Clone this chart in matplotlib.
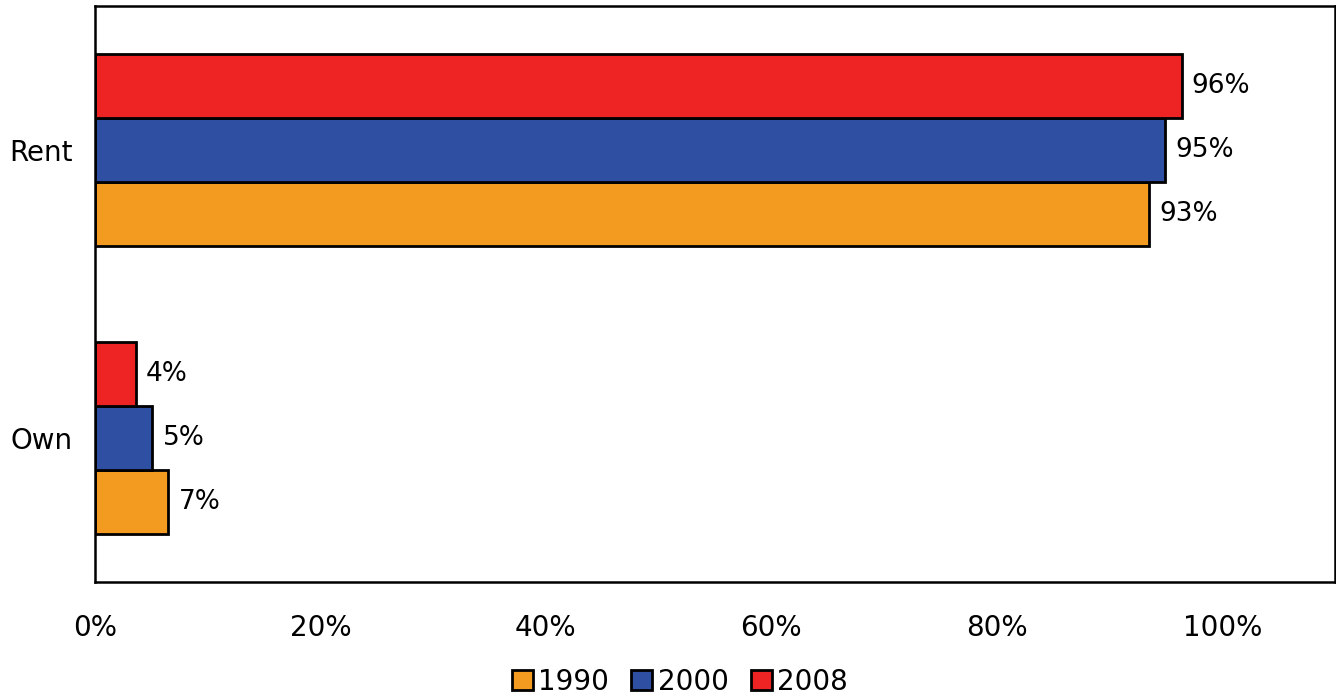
import numpy as np
import matplotlib.pyplot as plt
from matplotlib.patches import Patch

categories = ['Own', 'Rent']
years = ['1990', '2000', '2008']
values = {
    '1990': [0.065, 0.935],
    '2000': [0.051, 0.949],
    '2008': [0.036, 0.964],
}
labels = {
    '1990': ['7%', '93%'],
    '2000': ['5%', '95%'],
    '2008': ['4%', '96%'],
}
colors = {'1990': '#F39A21', '2000': '#2F4FA2', '2008': '#EE2424'}
xticks = [0, 0.2, 0.4, 0.6, 0.8, 1.0]
xticklabels = ['0%', '20%', '40%', '60%', '80%', '100%']

fig = plt.figure(figsize=(13.36, 6.98), dpi=100)
ax = fig.add_axes([95 / 1336, 1 - 582 / 698, (1335 - 95) / 1336, (582 - 6) / 698])

h = 0.222
y = np.arange(len(categories))
offsets = {'1990': -h, '2000': 0.0, '2008': h}
for yr in years:
    bars = ax.barh(y + offsets[yr], values[yr], height=h, color=colors[yr],
                   edgecolor='black', linewidth=2)
    for b, lab in zip(bars, labels[yr]):
        ax.text(b.get_width() + 0.009, b.get_y() + h / 2, lab,
                va='center', ha='left', fontsize=19)

ax.set_xlim(0, 1.1)
ax.set_ylim(-0.5, 1.5)
ax.set_yticks(y)
ax.set_yticklabels(categories, fontsize=20)
ax.set_xticks(xticks)
ax.set_xticklabels(xticklabels, fontsize=20)
ax.tick_params(axis='x', length=0, pad=23)
ax.tick_params(axis='y', length=0, pad=16)
for s in ax.spines.values():
    s.set_linewidth(1.8)

handles = [Patch(facecolor=colors[yr], edgecolor='black', linewidth=2, label=yr) for yr in years]
fig.legend(handles=handles, loc='center', bbox_to_anchor=(680 / 1336, 1 - 682 / 698),
           ncol=3, frameon=False, fontsize=20, handlelength=0.75, handleheight=0.75,
           handletextpad=0.2, columnspacing=0.8)

fig.savefig('out.png', dpi=100)
